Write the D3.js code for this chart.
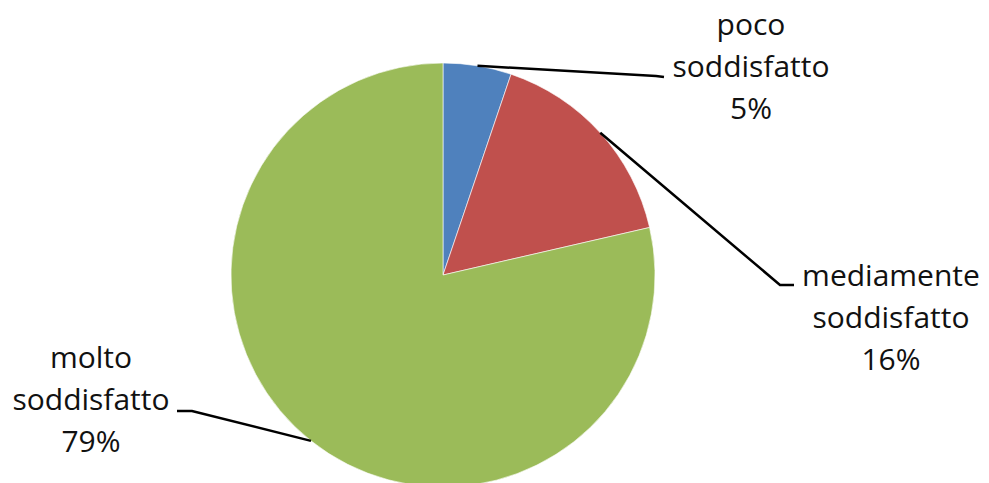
<!DOCTYPE html>
<html>
<head>
<meta charset="utf-8">
<script src="https://cdn.jsdelivr.net/npm/d3@7"></script>
<style>
  html, body { margin: 0; padding: 0; background: #fff; }
  svg { display: block; }
</style>
</head>
<body>
<svg id="chart" width="989" height="483"></svg>
<script>
// ---- data ----
const categories = ["poco soddisfatto", "mediamente soddisfatto", "molto soddisfatto"];
const values = [5.2, 16.2, 78.6];
const colors = ["#4F81BD", "#C0504D", "#9BBB59"];

// ---- layout ----
const W = 989, H = 483;
const cx = 443, cy = 275, R = 212;
const fontSize = 30, lineH = 42;
// label block: center x, first baseline y, leader path elbow points
const labelLayout = [
  { x: 751, y: 35,  lines: ["poco", "soddisfatto"], elbow: [[656, 76], [664, 77]] },
  { x: 891, y: 286, lines: ["mediamente", "soddisfatto"], elbow: [[780, 285], [794, 285]] },
  { x: 91,  y: 368, lines: ["molto", "soddisfatto"], elbow: [[192, 411], [177, 411]] }
];

const svg = d3.select("#chart");
const g = svg.append("g").attr("transform", `translate(${cx},${cy})`);

const pie = d3.pie().sort(null).value(d => d);
const arcs = pie(values);
const arc = d3.arc().innerRadius(0).outerRadius(R);
const edge = d3.arc().innerRadius(R).outerRadius(R);

g.selectAll("path.slice")
  .data(arcs)
  .join("path")
  .attr("class", "slice")
  .attr("d", arc)
  .attr("fill", (d, i) => colors[i])
  .attr("stroke", "#ffffff")
  .attr("stroke-width", 0.6);

const total = d3.sum(values);
const line = d3.line();

arcs.forEach((a, i) => {
  const L = labelLayout[i];
  const [ex, ey] = edge.centroid(a);
  const pts = [[ex + cx, ey + cy], ...L.elbow];
  svg.append("path")
    .attr("d", line(pts))
    .attr("fill", "none")
    .attr("stroke", "#000")
    .attr("stroke-width", 2.5);

  const pct = Math.round(values[i] / total * 100) + "%";
  const t = svg.append("text")
    .attr("text-anchor", "middle")
    .attr("font-family", "'Open Sans', sans-serif")
    .attr("font-size", fontSize)
    .attr("fill", "#111");
  [...L.lines, pct].forEach((s, k) => {
    t.append("tspan").attr("x", L.x).attr("y", L.y + k * lineH).text(s);
  });
});
</script>
</body>
</html>
